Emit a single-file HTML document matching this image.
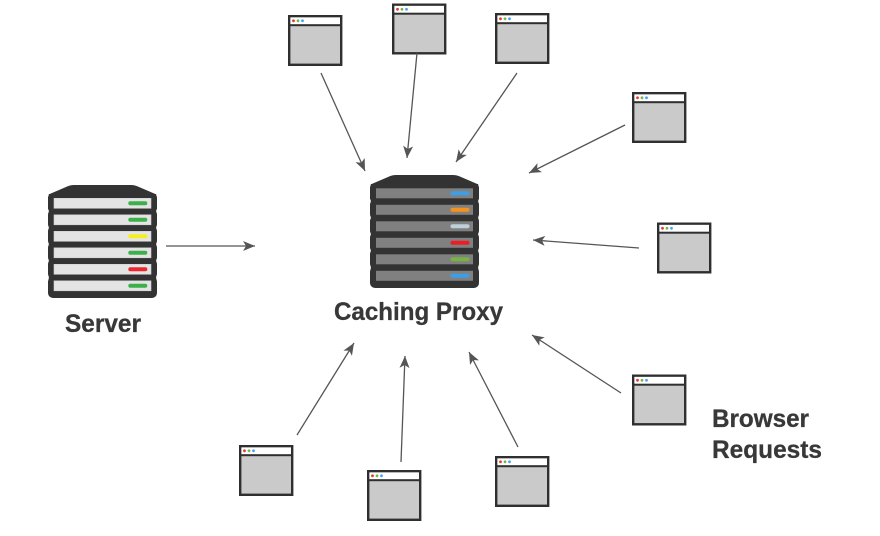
<!DOCTYPE html>
<html>
<head>
<meta charset="utf-8">
<style>
html,body{margin:0;padding:0;background:#fff;width:880px;height:536px;overflow:hidden}
svg{display:block}
text{font-family:"Liberation Sans",sans-serif;font-weight:700;fill:#383838;stroke:#383838;stroke-width:.3px;font-size:25px}
#all{filter:blur(.35px)}
</style>
</head>
<body>
<svg width="880" height="536" viewBox="0 0 880 536" xmlns="http://www.w3.org/2000/svg">
<defs>
<g id="win">
<rect x="1.200" y="1.200" width="52" height="48.600" fill="#cacaca" stroke="#2f2f2f" stroke-width="2.400"/>
<rect x="2.400" y="2.400" width="49.600" height="7" fill="#fff"/>
<rect x="1" y="9.200" width="52" height="2" fill="#2f2f2f"/>
<circle cx="5.500" cy="5.800" r="1.400" fill="#e53935"/>
<circle cx="10" cy="5.800" r="1.400" fill="#7cb342"/>
<circle cx="14.500" cy="5.800" r="1.400" fill="#42a5f5"/>
</g>
<marker id="arr" markerWidth="14" markerHeight="12" refX="12" refY="6" orient="auto" markerUnits="userSpaceOnUse">
<path d="M12 6 L0 1 L3 6 L0 11 Z" fill="#555"/>
</marker>
<g id="body">
<path d="M0 14 Q0 9 4 8 L18 2 Q22 0 26 0 L83 0 Q87 0 91 2 L105 8 Q109 9 109 14 L109 24 L0 24 Z"/>
<rect x="0.800" y="9" width="107.400" height="100"/>
<rect x="0" y="9" width="109" height="18" rx="4"/>
<rect x="0" y="25.500" width="109" height="18" rx="4"/>
<rect x="0" y="42" width="109" height="18" rx="4"/>
<rect x="0" y="58.500" width="109" height="18" rx="4"/>
<rect x="0" y="75" width="109" height="18" rx="4"/>
<rect x="0" y="91.500" width="109" height="21.500" rx="5"/>
</g>
</defs>

<g id="all">
<!-- Windows -->
<use href="#win" x="288" y="15"/>
<use href="#win" x="392" y="3.500"/>
<use href="#win" x="495" y="13"/>
<use href="#win" x="632" y="92"/>
<use href="#win" x="657" y="222.500"/>
<use href="#win" x="632" y="374.500"/>
<use href="#win" x="495" y="456"/>
<use href="#win" x="367" y="470"/>
<use href="#win" x="239" y="445"/>

<!-- Arrows -->
<g stroke="#555" stroke-width="1.300" fill="none">
<line x1="321" y1="73" x2="365" y2="171" marker-end="url(#arr)"/>
<line x1="417" y1="53" x2="407" y2="158" marker-end="url(#arr)"/>
<line x1="517" y1="73" x2="456" y2="162" marker-end="url(#arr)"/>
<line x1="625" y1="125" x2="529" y2="173" marker-end="url(#arr)"/>
<line x1="639" y1="248" x2="533" y2="240" marker-end="url(#arr)"/>
<line x1="621" y1="393" x2="532" y2="335" marker-end="url(#arr)"/>
<line x1="518" y1="447" x2="469" y2="352" marker-end="url(#arr)"/>
<line x1="401" y1="462" x2="405" y2="356" marker-end="url(#arr)"/>
<line x1="297" y1="435" x2="354" y2="343" marker-end="url(#arr)"/>
<line x1="166" y1="246" x2="255" y2="246" marker-end="url(#arr)"/>
</g>

<!-- Server -->
<g transform="translate(48,185)">
<use href="#body" fill="#333"/>
<g fill="#e4e4e4" stroke="#cfcfcf" stroke-width="0.600">
<rect x="6" y="13.300" width="97" height="10"/>
<rect x="6" y="29.800" width="97" height="10"/>
<rect x="6" y="46.300" width="97" height="10"/>
<rect x="6" y="62.800" width="97" height="10"/>
<rect x="6" y="79.300" width="97" height="10"/>
<rect x="6" y="95.800" width="97" height="10"/>
</g>
<rect x="80.300" y="16.300" width="19" height="4" rx="2" fill="#3cb04a"/>
<rect x="80.300" y="32.800" width="19" height="4" rx="2" fill="#3cb04a"/>
<rect x="80.300" y="49.300" width="19" height="4" rx="2" fill="#f5ee20"/>
<rect x="80.300" y="65.800" width="19" height="4" rx="2" fill="#3cb04a"/>
<rect x="80.300" y="82.300" width="19" height="4" rx="2" fill="#ee2630"/>
<rect x="80.300" y="98.800" width="19" height="4" rx="2" fill="#3cb04a"/>
</g>

<!-- Proxy -->
<g transform="translate(370,175)">
<use href="#body" fill="#333"/>
<g fill="#808080">
<rect x="6" y="13.300" width="97" height="10"/>
<rect x="6" y="29.800" width="97" height="10"/>
<rect x="6" y="46.300" width="97" height="10"/>
<rect x="6" y="62.800" width="97" height="10"/>
<rect x="6" y="79.300" width="97" height="10"/>
<rect x="6" y="95.800" width="97" height="10"/>
</g>
<rect x="80.500" y="16.300" width="19" height="4" rx="2" fill="#3b9fe8"/>
<rect x="80.500" y="32.800" width="19" height="4" rx="2" fill="#f5921e"/>
<rect x="80.500" y="49.300" width="19" height="4" rx="2" fill="#bfd0da"/>
<rect x="80.500" y="65.800" width="19" height="4" rx="2" fill="#ee1c25"/>
<rect x="80.500" y="82.300" width="19" height="4" rx="2" fill="#78b342"/>
<rect x="80.500" y="98.800" width="19" height="4" rx="2" fill="#3b9fe8"/>
</g>

<!-- Labels -->
<text x="65" y="332" textLength="76" lengthAdjust="spacingAndGlyphs">Server</text>
<text x="334" y="320" textLength="169" lengthAdjust="spacingAndGlyphs">Caching Proxy</text>
<text x="712" y="427" textLength="97" lengthAdjust="spacingAndGlyphs">Browser</text>
<text x="712" y="458" textLength="110" lengthAdjust="spacingAndGlyphs">Requests</text>
</g>
</svg>
</body>
</html>
